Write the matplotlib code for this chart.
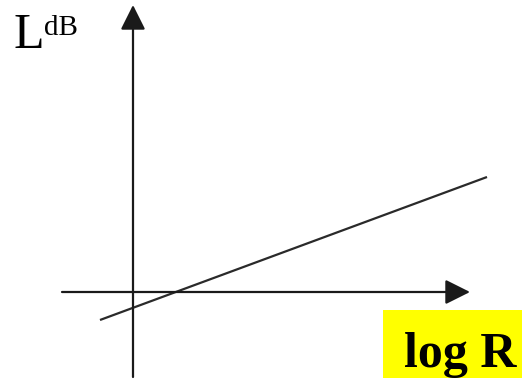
import matplotlib
matplotlib.use("Agg")
import matplotlib.pyplot as plt
from matplotlib.patches import Rectangle

# schematic level-vs-log(R) sketch, origin where the two axes cross
x_axis = [-0.71, 3.37]      # horizontal axis extent (log R)
y_axis = [-0.85, 2.87]      # vertical axis extent (L dB)
line_x = [-0.33, 3.54]
line_y = [-0.28, 1.15]

W, H = 522, 383
fig = plt.figure(figsize=(W / 100, H / 100), dpi=100, facecolor="white")
ax = fig.add_axes([0, 0, 1, 1])
ax.set_xlim(-1.33, -1.33 + W / 100)
ax.set_ylim(2.92 - H / 100, 2.92)
ax.set_axis_off()

ink = "#1a1a1a"
arrow = dict(arrowstyle="-|>", mutation_scale=38, lw=1.6, color=ink,
             shrinkA=0, shrinkB=0)

# axes with arrowheads
ax.annotate("", xy=(x_axis[1], 0), xytext=(x_axis[0], 0), arrowprops=arrow)
ax.annotate("", xy=(0, y_axis[1]), xytext=(0, y_axis[0]), arrowprops=arrow)

# the straight line
ax.plot(line_x, line_y, color="#2a2a2a", lw=1.6, solid_capstyle="butt")

serif = ["Liberation Serif", "DejaVu Serif"]
ax.text(-1.20, 2.44, "L", fontsize=36, family=serif, color="black",
        ha="left", va="baseline")
ax.text(-0.89, 2.57, "dB", fontsize=21, family=serif, color="black",
        ha="left", va="baseline")

# highlighted axis label
ax.add_patch(Rectangle((2.50, -0.86), 1.40, 0.68, facecolor="#ffff00",
                       edgecolor="none", zorder=0))
ax.text(3.27, -0.75, "log R", fontsize=36, family=serif, weight="bold",
        color="black", ha="center", va="baseline")

fig.savefig("out.png", dpi=100, facecolor="white")
